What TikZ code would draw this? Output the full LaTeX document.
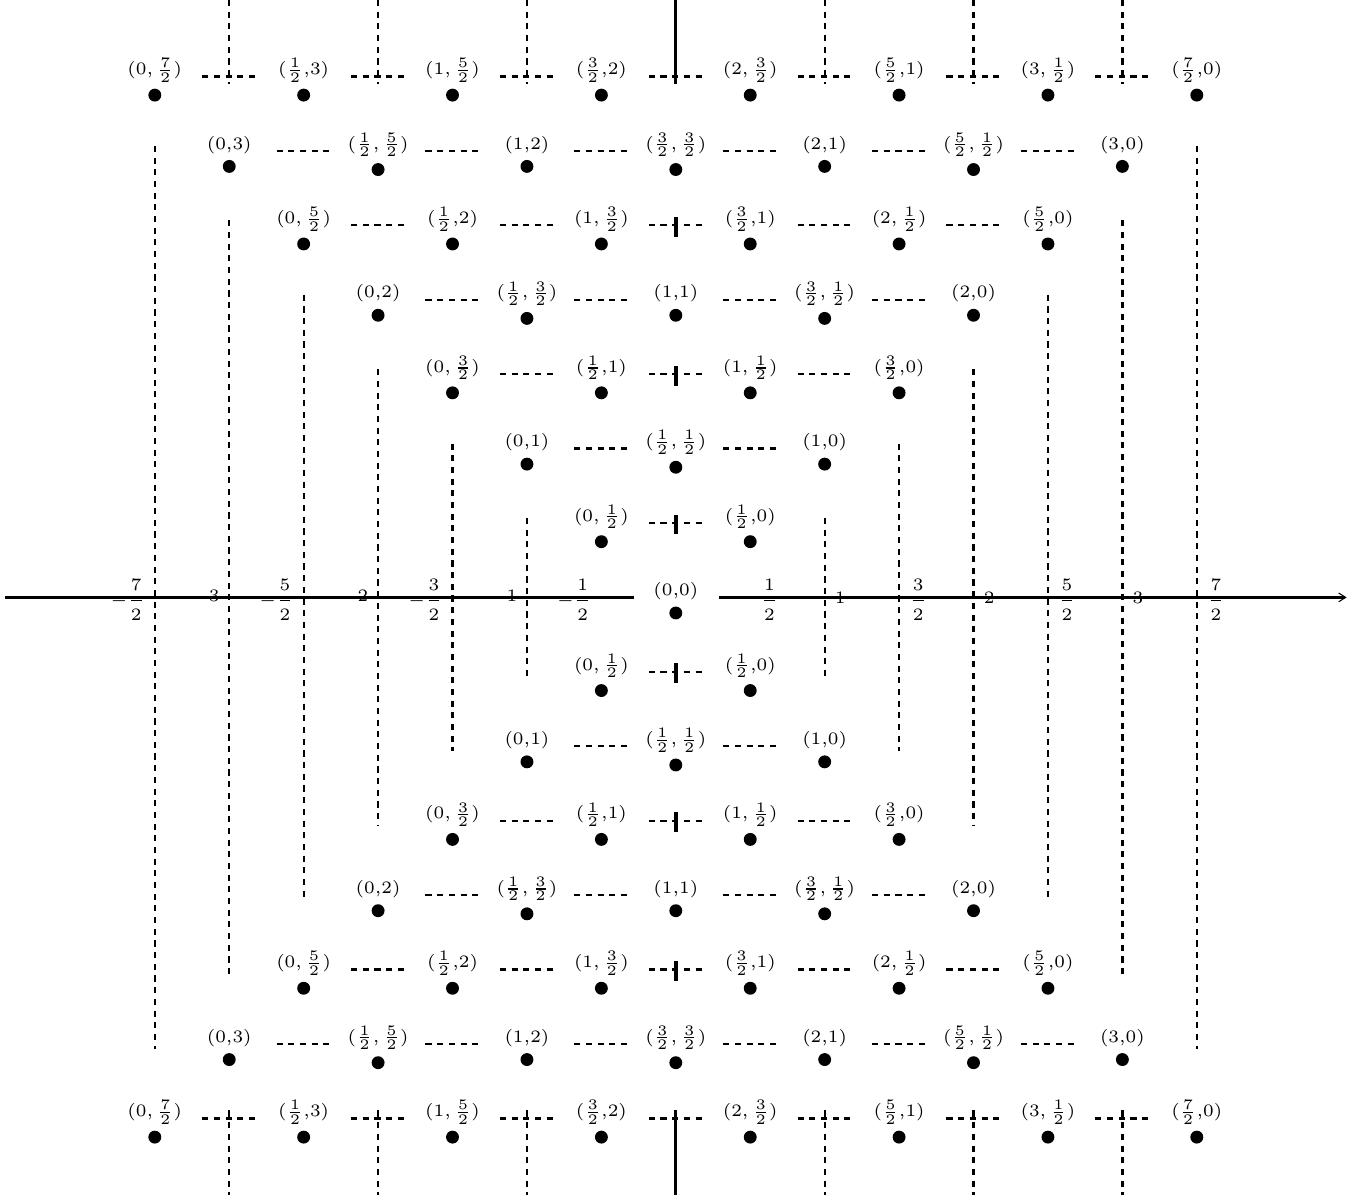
\documentclass[tikz,border=0pt]{standalone}
\usepackage{graphicx}
\usetikzlibrary{arrows.meta}
\newcommand\hv[1]{\ifodd#1\relax\frac{#1}{2}\else\the\numexpr(#1)/2\relax\fi}
\newcommand\labtxt[2]{\scalebox{1.6667}{\fontsize{6}{7}\selectfont$(\hv{#1}\ifodd#2\relax,\else{,}\fi\hv{#2})$}}
\newcommand\axtxt[1]{\scalebox{1.6667}{\fontsize{6}{7}\selectfont$\displaystyle #1$}}
\begin{document}
\begin{tikzpicture}[
  lab/.style={anchor=base, inner sep=3.33pt},
  dot/.style={circle, fill, inner sep=0pt, minimum size=7.4pt, anchor=north},
  hdash/.style={line width=1.3pt, dash pattern=on 3.5pt off 3.2pt, shorten <=0.955cm, shorten >=0.955cm},
  vdash/.style={line width=1.3pt, dash pattern=on 3.5pt off 3.2pt},
  axisline/.style={line width=1.7pt},
  solidline/.style={line width=1.7pt},
  tickline/.style={line width=2pt},
  axlab/.style={inner sep=0pt}
]
\useasboundingbox (-13.62,-12.04) rectangle (13.97,12.04);

% points, labels and dots
\foreach \hb/\sg in {t/1,b/-1}{
  \foreach \j in {1,...,7}{
    \foreach \m in {0,...,\j}{
      \pgfmathtruncatemacro\nb{\j-\m}
      \coordinate (P-\hb-\j-\m) at ({(-\j+2*\m)*1.5},{\sg*\j*1.5});
      \node[lab] (L-\hb-\j-\m) at ([yshift=1pt]P-\hb-\j-\m) {\labtxt{\m}{\nb}};
      \node[dot] (D-\hb-\j-\m) at (L-\hb-\j-\m.south) {};
    }
  }
}
\coordinate (O) at (0,0);
\node[lab] (L-0) at ([yshift=1pt]O) {\labtxt{0}{0}};
\node[dot] (D-0) at (L-0.south) {};

% horizontal dashed connectors
\foreach \hb in {t,b}{
  \foreach \j in {1,...,7}{
    \foreach \m in {1,...,\j}{
      \pgfmathtruncatemacro\mprev{\m-1}
      \draw[hdash] (P-\hb-\j-\mprev) -- (P-\hb-\j-\m);
    }
  }
}

% vertical dashed walls
\foreach \cc in {2,...,7}{
  \pgfmathsetmacro\yy{(\cc-1)*1.5+0.1}
  \coordinate (V-n-\cc-a) at ({-\cc*1.5},\yy);
  \coordinate (V-n-\cc-b) at ({-\cc*1.5},-\yy);
  \coordinate (V-p-\cc-a) at ({\cc*1.5},\yy);
  \coordinate (V-p-\cc-b) at ({\cc*1.5},-\yy);
  \draw[vdash] (V-n-\cc-a) -- (V-n-\cc-b);
  \draw[vdash] (V-p-\cc-a) -- (V-p-\cc-b);
}

% top and bottom lines
\foreach \cc in {-6,-4,-2,2,4,6}{
  \coordinate (T-\cc-a) at ({\cc*1.5},12.04);
  \coordinate (T-\cc-b) at ({\cc*1.5},10.34);
  \coordinate (B-\cc-a) at ({\cc*1.5},-12.04);
  \coordinate (B-\cc-b) at ({\cc*1.5},-10.34);
  \draw[vdash] (T-\cc-a) -- (T-\cc-b);
  \draw[vdash] (B-\cc-b) -- (B-\cc-a);
}
\coordinate (T-0-a) at (0,12.04);
\coordinate (T-0-b) at (0,10.34);
\coordinate (B-0-a) at (0,-12.04);
\coordinate (B-0-b) at (0,-10.34);
\draw[solidline] (T-0-a) -- (T-0-b);
\draw[solidline] (B-0-b) -- (B-0-a);

% ticks on column 0
\foreach \jj in {1,3,5,-1,-3,-5}{
  \coordinate (K-\jj-a) at (0,{\jj*1.5+0.17});
  \coordinate (K-\jj-b) at (0,{\jj*1.5-0.23});
  \draw[tickline] (K-\jj-a) -- (K-\jj-b);
}

% axis labels
\foreach \cc in {1,...,7}{
  \coordinate (X-p-\cc) at ({\cc*1.5},0);
  \coordinate (X-n-\cc) at ({-\cc*1.5},0);
  \ifodd\cc
    \node[axlab, anchor=west] (A-p-\cc) at ([xshift=0.2cm,yshift=-0.05cm]X-p-\cc) {\axtxt{\hv{\cc}}};
    \node[axlab, anchor=east] (A-n-\cc) at ([xshift=-0.19cm,yshift=-0.05cm]X-n-\cc) {\axtxt{-\hv{\cc}}};
  \else
    \node[axlab, anchor=west] (A-p-\cc) at ([xshift=0.2cm]X-p-\cc) {\axtxt{\hv{\cc}}};
    \node[axlab, anchor=east] (A-n-\cc) at ([xshift=-0.19cm]X-n-\cc) {\axtxt{-\hv{\cc}}};
  \fi
}

% axis
\coordinate (axL) at (-13.52,0);
\coordinate (axR) at (13.52,0);
\draw[axisline, shorten >=0.27cm] (axL) -- (L-0.west |- O);
\draw[axisline, shorten <=0.29cm, -{Straight Barb[length=4pt,width=5pt,line width=0.6pt]}] (L-0.east |- O) -- (axR);
\end{tikzpicture}
\end{document}
